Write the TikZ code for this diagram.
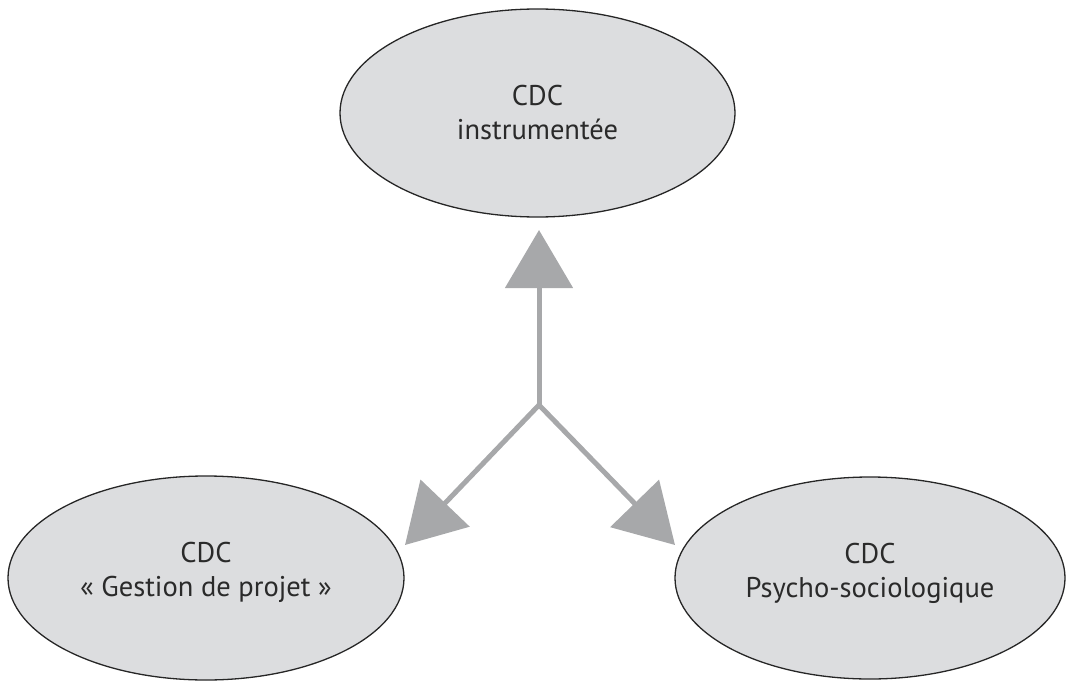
\documentclass[tikz,border=0pt]{standalone}
\usepackage{fontspec}
\setmainfont{PT Sans}
\usetikzlibrary{arrows.meta,shapes.geometric}
\definecolor{ellfill}{HTML}{DCDDDF}
\definecolor{arrgray}{HTML}{A7A8AA}
\definecolor{txt}{HTML}{2A2A2A}
\begin{document}
\begin{tikzpicture}[x=1pt,y=-1pt,
  cdc/.style={draw=black!85, line width=1.3pt, fill=ellfill, ellipse, inner sep=0pt, outer sep=0pt},
  lbl/.style={text=txt, font=\fontsize{28.5}{34}\selectfont, align=center, inner sep=0pt},
  conn/.style={draw=arrgray, line width=5pt,
    -{Triangle[width=67pt,length=58pt]}}
]
\useasboundingbox (0,0) rectangle (1068,682);
\node[cdc, minimum width=395pt, minimum height=208pt] (etop) at (537.5,113) {};
\node[lbl] (top) at (537.5,113) {CDC\\instrumentée};
\node[cdc, minimum width=396pt, minimum height=204pt] (eleft) at (206,578) {};
\node[lbl] (left) at (206,572) {CDC\\« Gestion de projet »};
\node[cdc, minimum width=390pt, minimum height=202pt] (eright) at (870,578) {};
\node[lbl] (right) at (870,573) {CDC\\Psycho-sociologique};
\coordinate (j) at (539,405);
\coordinate (tu) at (539,230);
\coordinate (tl) at (405,545);
\coordinate (tr) at (675,545);
\draw[conn] (j) -- (tu);
\draw[conn] (j) -- (tl);
\draw[conn] (j) -- (tr);
\end{tikzpicture}
\end{document}
